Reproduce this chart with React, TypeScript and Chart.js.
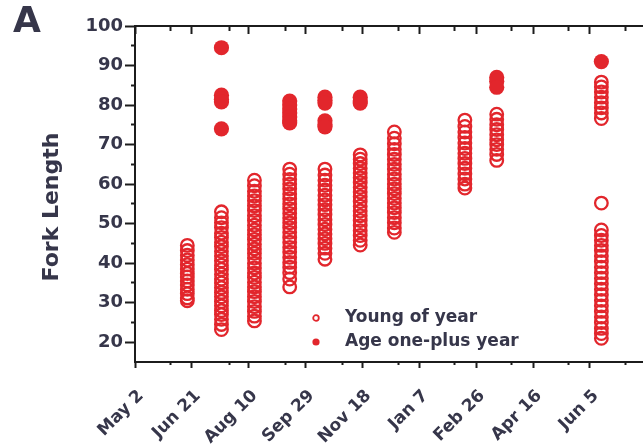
import React, { useEffect, useRef } from 'react';
import { Chart, registerables } from 'chart.js';

Chart.register(...registerables);

// ---- data (days since May 2 for each monthly sample) ----
const SAMPLE_DAYS = [46, 76, 105, 136, 167, 198, 228, 290, 318, 410];

// fork lengths of young-of-year fish (open circles), one list per sample
const YOY_S1 = [44.5, 43.2, 42, 40.8, 39.6, 38.5, 37.4, 36.5, 35.5, 34.5, 33.4, 32.3, 31.2, 30.5];
const YOY_S2 = [53, 51.5, 50.2, 49, 47.6, 46.5, 45.3, 44.2, 43, 41.8, 40.6, 39.5, 38.4, 37.2, 36, 35, 33.8, 32.6, 31.5, 30.3, 29.2, 28, 27, 25.8, 24.5, 23.2];
const YOY_S3 = [61, 59.6, 58.2, 57, 55.8, 54.5, 53.3, 52, 50.8, 49.6, 48.4, 47.2, 46, 44.8, 43.6, 42.5, 41.3, 40, 38.8, 37.5, 36.4, 35.2, 34, 32.8, 31.5, 30.3, 29, 27.8, 26.6, 25.4];
const YOY_S4 = [63.8, 62.5, 61.2, 60, 58.8, 57.5, 56.3, 55, 53.8, 52.6, 51.4, 50.2, 49, 47.8, 46.5, 45.3, 44, 42.8, 41.5, 40.2, 39, 37.6, 36, 34];
const YOY_S5 = [63.8, 62.3, 61, 59.7, 58.5, 57.2, 56, 54.8, 53.5, 52.3, 51, 49.8, 48.6, 47.4, 46.2, 45, 43.8, 42.5, 41];
const YOY_S6 = [67.4, 66.3, 65.2, 64, 62.8, 61.6, 60.4, 59.2, 58, 56.8, 55.6, 54.4, 53.2, 52, 50.8, 49.5, 48.2, 47, 45.8, 44.6];
const YOY_S7 = [73.2, 71.6, 70.2, 68.8, 67.5, 66.3, 65, 63.8, 62.5, 61.3, 60, 58.8, 57.6, 56.4, 55.2, 54, 52.8, 51.5, 50.2, 48.9, 47.8];
const YOY_S8 = [76.2, 74.6, 73.2, 71.8, 70.4, 69, 67.8, 66.5, 65.2, 64, 62.6, 61.3, 60, 59];
const YOY_S9 = [77.7, 76.4, 75, 73.8, 72.5, 71.2, 70, 68.8, 67.5, 66];
const YOY_S10 = [85.8, 84.6, 83.3, 82, 80.6, 79.3, 78, 76.6, 55.2, 48.4, 47, 45.8, 44.5, 43.2, 41.8, 40.4, 39, 37.6, 36.2, 34.8, 33.4, 32, 30.6, 29.2, 27.8, 26.4, 25, 23.5, 22.2, 21];
const YOUNG_OF_YEAR = [YOY_S1, YOY_S2, YOY_S3, YOY_S4, YOY_S5, YOY_S6, YOY_S7, YOY_S8, YOY_S9, YOY_S10];

// fork lengths of age one-plus fish (filled circles), one list per sample
const AGE1_S2 = [94.5, 82.5, 81.5, 80.8, 74];
const AGE1_S4 = [81, 80, 79, 78, 77, 76, 75.5];
const AGE1_S5 = [82, 81.2, 80.5, 76, 75, 74.5];
const AGE1_S6 = [82, 81, 80.5];
const AGE1_S9 = [87, 86, 84.5];
const AGE1_S10 = [91];
const AGE_ONE_PLUS = [[], AGE1_S2, [], AGE1_S4, AGE1_S5, AGE1_S6, [], [], AGE1_S9, AGE1_S10];

// ---- axis ticks ----
const X_TICK_DAYS = [0, 50, 100, 150, 200, 250, 300, 350, 400];
const X_TICK_LABELS = ['May 2', 'Jun 21', 'Aug 10', 'Sep 29', 'Nov 18', 'Jan 7', 'Feb 26', 'Apr 16', 'Jun 5'];
const X_MINOR_DAYS = [31, 83, 132, 182, 232, 281, 331, 381, 431];
const Y_TICKS = [20, 30, 40, 50, 60, 70, 80, 90, 100];
const Y_MINOR = [25, 35, 45, 55, 65, 75, 85, 95];

const SERIES_LABELS = ['Young of year', 'Age one-plus year'];
const Y_TITLE = 'Fork Length';
const PANEL_LABEL = 'A';

// ---- styles ----
const RED = 'rgb(226, 38, 44)';
const AXIS_COLOR = '#1c1c1c';
const TEXT_COLOR = '#36364a';
const FONT = 'DejaVu Sans';

function makeMarker(filled: boolean): HTMLCanvasElement {
  const c = document.createElement('canvas');
  c.width = 10;
  c.height = 10;
  const g = c.getContext('2d')!;
  g.beginPath();
  if (filled) {
    g.arc(5, 5, 3.6, 0, Math.PI * 2);
    g.fillStyle = RED;
    g.fill();
  } else {
    g.arc(5, 5, 2.8, 0, Math.PI * 2);
    g.strokeStyle = RED;
    g.lineWidth = 1.8;
    g.stroke();
  }
  return c;
}

const legendPlace = {
  id: 'legendPlace',
  afterLayout(chart: any) {
    const lg = chart.legend;
    if (!lg) return;
    const w = lg.width;
    const h = lg.height;
    lg.left = 288.5;
    lg.top = 302.5;
    lg.right = lg.left + w;
    lg.bottom = lg.top + h;
  },
};

export default function App() {
  const ref = useRef<HTMLCanvasElement>(null);

  useEffect(() => {
    document.body.style.margin = '0';
    const canvas = ref.current;
    if (!canvas) return;

    const yoyPoints = SAMPLE_DAYS.flatMap((d, i) => YOUNG_OF_YEAR[i].map((v) => ({ x: d, y: v })));
    const agePoints = SAMPLE_DAYS.flatMap((d, i) => AGE_ONE_PLUS[i].map((v) => ({ x: d, y: v })));
    const markers = [makeMarker(false), makeMarker(true)];

    const tickFont = { family: FONT, size: 17, weight: 'bold' as const };

    const chart = new Chart(canvas, {
      type: 'scatter',
      data: {
        datasets: [
          {
            label: SERIES_LABELS[0],
            data: yoyPoints,
            pointStyle: 'circle',
            pointRadius: 6.3,
            pointBorderWidth: 2.3,
            pointBorderColor: RED,
            pointBackgroundColor: 'rgba(0,0,0,0)',
            borderColor: RED,
            backgroundColor: 'rgba(0,0,0,0)',
            showLine: false,
          },
          {
            label: SERIES_LABELS[1],
            data: agePoints,
            pointStyle: 'circle',
            pointRadius: 7.6,
            pointBorderWidth: 0,
            pointBackgroundColor: RED,
            borderColor: RED,
            backgroundColor: RED,
            showLine: false,
          },
        ],
      },
      options: {
        responsive: false,
        animation: false,
        devicePixelRatio: 1,
        events: [],
        layout: { autoPadding: false, padding: { left: 13, top: -32, right: 0, bottom: 0 } },
        plugins: {
          tooltip: { enabled: false },
          subtitle: {
            display: true,
            text: PANEL_LABEL,
            position: 'top',
            align: 'start',
            color: TEXT_COLOR,
            font: { family: FONT, size: 36, weight: 'bold', lineHeight: '46px' },
            padding: { top: 32, bottom: -20 },
          },
          title: {
            display: true,
            text: Y_TITLE,
            position: 'left',
            align: 'center',
            color: TEXT_COLOR,
            font: { family: FONT, size: 22, weight: 'bold', lineHeight: 1.2 },
            padding: { top: 26, bottom: 0 },
          },
          legend: {
            display: true,
            position: 'chartArea',
            align: 'start',
            labels: {
              usePointStyle: true,
              pointStyleWidth: 41,
              padding: 7,
              color: TEXT_COLOR,
              font: { family: FONT, size: 17, weight: 'bold' },
              generateLabels: (c: any) => {
                const items = (Chart.defaults.plugins.legend.labels as any).generateLabels(c);
                return items.map((it: any, i: number) => ({ ...it, pointStyle: markers[i] }));
              },
            },
          },
        },
        scales: {
          x: {
            type: 'linear',
            position: 'bottom',
            display: true,
            weight: 1,
            min: 0,
            max: 446.6,
            afterBuildTicks: (a: any) => {
              a.ticks = X_TICK_DAYS.map((v) => ({ value: v }));
            },
            afterFit: (a: any) => {
              a.height = 84;
              a.paddingLeft = 0;
              a.paddingRight = 0;
            },
            ticks: {
              autoSkip: false,
              minRotation: 45,
              maxRotation: 45,
              padding: 18,
              labelOffset: 6,
              color: TEXT_COLOR,
              font: tickFont,
              callback: (v: any) => {
                const i = X_TICK_DAYS.indexOf(Number(v));
                return i >= 0 ? X_TICK_LABELS[i] : '';
              },
            },
            grid: { display: true, drawOnChartArea: false, drawTicks: true, tickLength: 6, tickWidth: 2, tickColor: AXIS_COLOR },
            border: { display: true, color: AXIS_COLOR, width: 2 },
          },
          xMinor: {
            type: 'linear',
            position: 'bottom',
            display: true,
            weight: 0,
            min: 0,
            max: 446.6,
            afterBuildTicks: (a: any) => {
              a.ticks = X_MINOR_DAYS.map((v) => ({ value: v }));
            },
            afterFit: (a: any) => {
              a.height = 0;
              a.paddingLeft = 0;
              a.paddingRight = 0;
            },
            ticks: { display: false },
            grid: { display: true, drawOnChartArea: false, drawTicks: true, tickLength: 3, tickWidth: 2, tickColor: AXIS_COLOR },
            border: { display: false },
          },
          xTop: {
            type: 'linear',
            position: 'top',
            display: true,
            weight: 1,
            min: 0,
            max: 446.6,
            afterBuildTicks: (a: any) => {
              a.ticks = X_TICK_DAYS.map((v) => ({ value: v }));
            },
            afterFit: (a: any) => {
              a.height = 0;
              a.paddingLeft = 0;
              a.paddingRight = 0;
            },
            ticks: { display: false },
            grid: { display: true, drawOnChartArea: false, drawTicks: true, tickLength: -8, tickWidth: 2, tickColor: AXIS_COLOR },
            border: { display: true, color: AXIS_COLOR, width: 2 },
          },
          xTopMinor: {
            type: 'linear',
            position: 'top',
            display: true,
            weight: 0,
            min: 0,
            max: 446.6,
            afterBuildTicks: (a: any) => {
              a.ticks = X_MINOR_DAYS.map((v) => ({ value: v }));
            },
            afterFit: (a: any) => {
              a.height = 0;
              a.paddingLeft = 0;
              a.paddingRight = 0;
            },
            ticks: { display: false },
            grid: { display: true, drawOnChartArea: false, drawTicks: true, tickLength: -5, tickWidth: 2, tickColor: AXIS_COLOR },
            border: { display: false },
          },
          y: {
            type: 'linear',
            position: 'left',
            display: true,
            weight: 1,
            min: 15,
            max: 100,
            afterBuildTicks: (a: any) => {
              a.ticks = Y_TICKS.map((v) => ({ value: v }));
            },
            afterFit: (a: any) => {
              a.width = 69.6;
            },
            ticks: {
              padding: 2,
              color: TEXT_COLOR,
              font: { family: FONT, size: 18, weight: 'bold' },
              callback: (v: any) => String(v),
            },
            grid: { display: true, drawOnChartArea: false, drawTicks: true, tickLength: 10, tickWidth: 2, tickColor: AXIS_COLOR },
            border: { display: true, color: AXIS_COLOR, width: 2 },
          },
          yMinor: {
            type: 'linear',
            position: 'left',
            display: true,
            weight: 0,
            min: 15,
            max: 100,
            afterBuildTicks: (a: any) => {
              a.ticks = Y_MINOR.map((v) => ({ value: v }));
            },
            afterFit: (a: any) => {
              a.width = 0;
            },
            ticks: { display: false },
            grid: { display: true, drawOnChartArea: false, drawTicks: true, tickLength: 4, tickWidth: 2, tickColor: AXIS_COLOR },
            border: { display: false },
          },
        },
      },
      plugins: [legendPlace],
    } as any);

    return () => chart.destroy();
  }, []);

  return (
    <div style={{ width: 643, height: 446, background: '#ffffff', overflow: 'hidden' }}>
      <canvas ref={ref} width={643} height={446} style={{ display: 'block' }} />
    </div>
  );
}
